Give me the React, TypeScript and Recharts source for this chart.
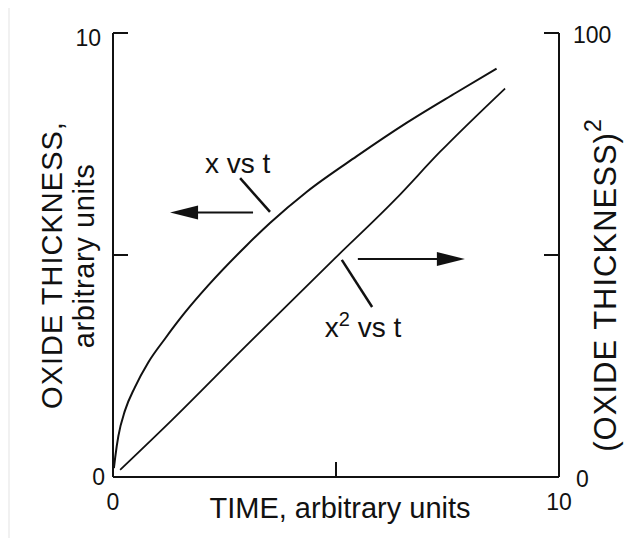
import React from 'react';
import { ComposedChart, Line, XAxis, YAxis, ReferenceLine, ReferenceDot } from 'recharts';

// ---- tick values and labels ----
const timeTicks = [0, 5, 10];
const timeTickLabels: Record<number, string> = { 0: '0', 5: '', 10: '10' };
const leftTicks = [0, 5, 10];
const leftTickLabels: Record<number, string> = { 0: '0', 5: '', 10: '10' };
const rightTicks = [0, 50, 100];
const rightTickLabels: Record<number, string> = { 0: '0', 50: '', 100: '100' };

// ---- series: x vs t (left axis) ----
const xTime = [0.02, 0.05, 0.12, 0.27, 0.49, 0.79, 1.17, 1.61, 2.14, 3.0, 3.52, 4.34, 5.46, 6.59, 7.7, 8.6];
const xThickness = [0.2, 0.45, 0.92, 1.5, 2.02, 2.58, 3.12, 3.7, 4.32, 5.22, 5.72, 6.42, 7.22, 7.98, 8.66, 9.2];

// ---- series: x^2 vs t (right axis) ----
const x2Time = [0.16, 1.32, 2.96, 4.94, 6.32, 7.33, 8.79];
const x2Value = [1.6, 12.8, 29.3, 48.9, 62.4, 73.2, 87.5];

const xData = xTime.map((t, i) => ({ t, v: xThickness[i] }));
const x2Data = x2Time.map((t, i) => ({ t, v: x2Value[i] }));

const FONT = '"Liberation Sans", Arial, Helvetica, sans-serif';
const INK = '#111';
const TICK_LEN = 15;

const BottomTick = (props: any) => {
  const { x, y, payload } = props;
  const label = timeTickLabels[payload.value] ?? '';
  return (
    <g>
      <line x1={x} y1={y} x2={x} y2={y - TICK_LEN} stroke={INK} strokeWidth={2} />
      {label && (
        <text x={x} y={y + 25} textAnchor="middle" dominantBaseline="central" fontSize={23} fontFamily={FONT} fill={INK}>
          {label}
        </text>
      )}
    </g>
  );
};

const LeftTick = (props: any) => {
  const { x, y, payload } = props;
  const label = leftTickLabels[payload.value] ?? '';
  const dx = payload.value === 10 ? -12 : -8;
  const dy = payload.value === 10 ? 5 : 0;
  return (
    <g>
      <line x1={x} y1={y} x2={x + TICK_LEN} y2={y} stroke={INK} strokeWidth={2} />
      {label && (
        <text x={x + dx} y={y + dy} textAnchor="end" dominantBaseline="central" fontSize={23} fontFamily={FONT} fill={INK}>
          {label}
        </text>
      )}
    </g>
  );
};

const RightTick = (props: any) => {
  const { x, y, payload } = props;
  const label = rightTickLabels[payload.value] ?? '';
  const dx = payload.value === 100 ? 14 : 17;
  return (
    <g>
      <line x1={x} y1={y} x2={x - TICK_LEN} y2={y} stroke={INK} strokeWidth={2} />
      {label && (
        <text x={x + dx} y={y + 2} textAnchor="start" dominantBaseline="central" fontSize={23} fontFamily={FONT} fill={INK}>
          {label}
        </text>
      )}
    </g>
  );
};

const LeftAxisLabel = (props: any) => {
  const vb = props.viewBox || { x: 0, y: 33, width: 113, height: 444 };
  const c1x = vb.x + 52;
  const c1y = vb.y + vb.height / 2 + 10;
  const c2x = vb.x + 84;
  const c2y = vb.y + vb.height / 2 + 1;
  return (
    <g>
      <text x={c1x} y={c1y} transform={`rotate(-90 ${c1x} ${c1y})`} textAnchor="middle" dominantBaseline="central" fontSize={29} letterSpacing={1} fontFamily={FONT} fill={INK}>
        OXIDE THICKNESS,
      </text>
      <text x={c2x} y={c2y} transform={`rotate(-90 ${c2x} ${c2y})`} textAnchor="middle" dominantBaseline="central" fontSize={29} letterSpacing={0.6} fontFamily={FONT} fill={INK}>
        arbitrary units
      </text>
    </g>
  );
};

const RightAxisLabel = (props: any) => {
  const vb = props.viewBox || { x: 559, y: 33, width: 81, height: 444 };
  const cx = vb.x + 46;
  const cy = vb.y + vb.height / 2 + 30;
  return (
    <text x={cx} y={cy} transform={`rotate(-90 ${cx} ${cy})`} textAnchor="middle" dominantBaseline="central" fontSize={31} letterSpacing={1} fontFamily={FONT} fill={INK}>
      <tspan>(OXIDE THICKNESS)</tspan>
      <tspan dy={-12} fontSize={23}>2</tspan>
    </text>
  );
};

const BottomAxisLabel = (props: any) => {
  const vb = props.viewBox || { x: 113, y: 477, width: 446, height: 61 };
  return (
    <text x={vb.x + vb.width / 2 + 4} y={vb.y + 41} textAnchor="middle" fontSize={29} fontFamily={FONT} fill={INK}>
      TIME, arbitrary units
    </text>
  );
};

const ArrowShape = (props: any) => {
  const { x1, y1, x2, y2 } = props;
  const dx = x2 - x1;
  const dy = y2 - y1;
  const len = Math.sqrt(dx * dx + dy * dy) || 1;
  const ux = dx / len;
  const uy = dy / len;
  const head = 28;
  const half = 7;
  const bx = x2 - ux * head;
  const by = y2 - uy * head;
  return (
    <g>
      <line x1={x1} y1={y1} x2={bx + ux * 2} y2={by + uy * 2} stroke={INK} strokeWidth={2} />
      <polygon points={`${x2},${y2} ${bx - uy * half},${by + ux * half} ${bx + uy * half},${by - ux * half}`} fill={INK} />
    </g>
  );
};

const PointerShape = (props: any) => {
  const { x1, y1, x2, y2 } = props;
  return <line x1={x1} y1={y1} x2={x2} y2={y2} stroke={INK} strokeWidth={2.5} />;
};

const XLabelShape = (props: any) => (
  <text x={props.cx} y={props.cy} fontSize={28} fontFamily={FONT} fill={INK}>
    x vs t
  </text>
);

const X2LabelShape = (props: any) => (
  <text x={props.cx} y={props.cy} fontSize={28} fontFamily={FONT} fill={INK}>
    <tspan>x</tspan>
    <tspan dy={-11} fontSize={20}>2</tspan>
    <tspan dy={11}> vs t</tspan>
  </text>
);

export default function App() {
  return (
    <div style={{ position: 'relative', width: 640, height: 538, margin: '-8px 0 0 -8px', background: '#fff' }}>
      <div style={{ position: 'absolute', left: 0, top: 0, width: 640, height: 7, background: '#f1f1f1' }} />
      <div style={{ position: 'absolute', left: 0, top: 0, width: 10, height: 538, background: '#f1f1f1' }} />
      <div style={{ position: 'absolute', left: 0, top: 0 }}>
        <ComposedChart width={640} height={538} margin={{ top: 33, right: 0, bottom: 0, left: 0 }}>
          <XAxis
            xAxisId="b"
            type="number"
            dataKey="t"
            orientation="bottom"
            domain={[0, 10]}
            ticks={timeTicks}
            interval={0}
            height={61}
            axisLine={{ stroke: INK, strokeWidth: 2 }}
            tickLine={false}
            tickSize={0}
            tickMargin={0}
            tick={<BottomTick />}
            label={<BottomAxisLabel />}
            allowDataOverflow
          />
          <XAxis
            xAxisId="top"
            type="number"
            orientation="top"
            domain={[0, 10]}
            height={0}
            tick={false}
            tickLine={false}
            axisLine={{ stroke: INK, strokeWidth: 2 }}
          />
          <YAxis
            yAxisId="l"
            type="number"
            orientation="left"
            domain={[0, 10]}
            ticks={leftTicks}
            interval={0}
            width={113}
            axisLine={{ stroke: INK, strokeWidth: 2 }}
            tickLine={false}
            tickSize={0}
            tickMargin={0}
            tick={<LeftTick />}
            label={<LeftAxisLabel />}
            allowDataOverflow
          />
          <YAxis
            yAxisId="r"
            type="number"
            orientation="right"
            domain={[0, 100]}
            ticks={rightTicks}
            interval={0}
            width={81}
            axisLine={{ stroke: INK, strokeWidth: 2 }}
            tickLine={false}
            tickSize={0}
            tickMargin={0}
            tick={<RightTick />}
            label={<RightAxisLabel />}
            allowDataOverflow
          />
          <Line
            xAxisId="b"
            yAxisId="l"
            data={xData}
            dataKey="v"
            type="monotone"
            stroke={INK}
            strokeWidth={2}
            dot={false}
            activeDot={false}
            isAnimationActive={false}
          />
          <Line
            xAxisId="b"
            yAxisId="r"
            data={x2Data}
            dataKey="v"
            type="monotone"
            stroke={INK}
            strokeWidth={1.8}
            dot={false}
            activeDot={false}
            isAnimationActive={false}
          />
          <ReferenceLine xAxisId="b" yAxisId="l" segment={[{ x: 2.85, y: 6.73 }, { x: 3.52, y: 5.97 }]} shape={PointerShape} />
          <ReferenceLine xAxisId="b" yAxisId="l" segment={[{ x: 3.14, y: 5.96 }, { x: 1.28, y: 5.96 }]} shape={ArrowShape} />
          <ReferenceLine xAxisId="b" yAxisId="l" segment={[{ x: 5.13, y: 4.89 }, { x: 5.81, y: 3.83 }]} shape={PointerShape} />
          <ReferenceLine xAxisId="b" yAxisId="l" segment={[{ x: 5.49, y: 4.91 }, { x: 7.89, y: 4.91 }]} shape={ArrowShape} />
          <ReferenceDot xAxisId="b" yAxisId="l" x={2.06} y={6.85} r={0} shape={XLabelShape} />
          <ReferenceDot xAxisId="b" yAxisId="l" x={4.75} y={3.15} r={0} shape={X2LabelShape} />
        </ComposedChart>
      </div>
    </div>
  );
}
